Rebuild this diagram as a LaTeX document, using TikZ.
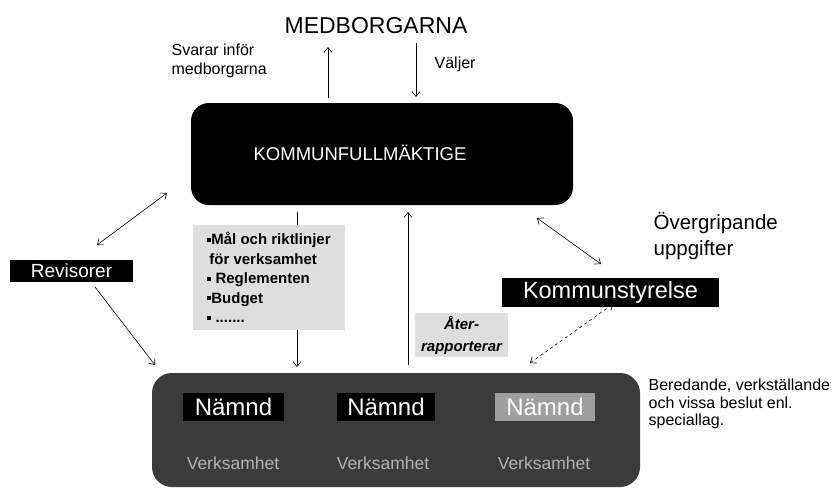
\documentclass[tikz,border=0pt]{standalone}
\usepackage{fontspec}
\setmainfont{Liberation Sans}
\usetikzlibrary{arrows.meta}
\newcommand{\kvadrat}{\rule[3pt]{4pt}{4pt}}

\begin{document}
\begin{tikzpicture}[x=1pt, y=-1pt, line width=0.6pt,
		pil/.style={-{Straight Barb[length=5pt,width=8pt]}},
		dubbelpil/.style={{Straight Barb[length=5pt,width=8pt]}-{Straight Barb[length=5pt,width=8pt]}},
		svartruta/.style={fill=black, text=white, inner sep=0pt},
		ljusruta/.style={fill=black!13, inner sep=0pt},
		brodtext/.style={font=\fontsize{16}{19}\selectfont, align=left}]
				\useasboundingbox (0,0) rectangle (837,488);
				% medborgarna och fullmaktige
				\node[font=\fontsize{23}{26}\selectfont] (medborgarna) at (376,26) {MEDBORGARNA};
				\node[brodtext, anchor=west] (svarar) at (168,61) {Svarar inför\\medborgarna};
				\node[brodtext, anchor=west] (valjer) at (431,64) {Väljer};
				\node[svartruta, rounded corners=18pt, minimum width=382pt, minimum height=102pt] (kf) at (382,154) {};
				\node[text=white, font=\fontsize{18.5}{20}\selectfont] (kftext) at (360,153) {KOMMUNFULLMÄKTIGE};
				
				% namnder och verksamheter
				\node[fill=black!77, rounded corners=20pt, minimum width=488pt, minimum height=114pt, inner sep=0pt] (verk) at (396,430) {};
				\node[svartruta, minimum width=101pt, minimum height=28pt, font=\fontsize{24}{26}\selectfont] (namnd1) at (233.5,407) {Nämnd};
				\node[svartruta, minimum width=98pt, minimum height=28pt, font=\fontsize{24}{26}\selectfont] (namnd2) at (386,407) {Nämnd};
				\node[svartruta, fill=black!38, minimum width=100pt, minimum height=28pt, font=\fontsize{24}{26}\selectfont] (namnd3) at (545,407) {Nämnd};
				\node[text=black!30, font=\fontsize{17.5}{20}\selectfont] (verk1) at (233,463) {Verksamhet};
				\node[text=black!30, font=\fontsize{17.5}{20}\selectfont] (verk2) at (383,463) {Verksamhet};
				\node[text=black!30, font=\fontsize{17.5}{20}\selectfont] (verk3) at (544,463) {Verksamhet};
				\node[font=\fontsize{16}{17.5}\selectfont, align=left, anchor=west] (beredande) at (645,404) {Beredande, verkställande\\och vissa beslut enl.\\speciallag.};
				
				% revisorer och kommunstyrelse
				\node[svartruta, minimum width=123pt, minimum height=22pt, font=\fontsize{19}{20}\selectfont] (revisorer) at (71.5,271) {Revisorer};
				\node[svartruta, minimum width=217pt, minimum height=29pt, font=\fontsize{23.5}{25}\selectfont] (ks) at (610.5,292.5) {Kommunstyrelse};
				\node[font=\fontsize{20.5}{26}\selectfont, align=left, anchor=west] (overgripande) at (650,236) {Övergripande\\uppgifter};
				
				% pilar
				\coordinate (svar1) at (328,98);  \coordinate (svar2) at (328,47);
				\coordinate (val1) at (416,43);   \coordinate (val2) at (416,97);
				\coordinate (mal1) at (297,212);  \coordinate (mal2) at (297,367);
				\coordinate (ater1) at (408,365); \coordinate (ater2) at (408,212);
				\coordinate (rev1) at (97,245);   \coordinate (rev2) at (167,193);
				\coordinate (rev3) at (95,287);   \coordinate (rev4) at (155,365);
				\coordinate (ks1) at (537,218);   \coordinate (ks2) at (601,264);
				\coordinate (ks3) at (530,363);   \coordinate (ks4) at (613,304);
				\draw[pil] (svar1) -- (svar2);
				\draw[pil] (val1) -- (val2);
				\draw[pil] (mal1) -- (mal2);
				\draw[pil] (ater1) -- (ater2);
				\draw[dubbelpil] (rev1) -- (rev2);
				\draw[pil] (rev3) -- (rev4);
				\draw[dubbelpil] (ks1) -- (ks2);
				\draw[dubbelpil, dashed] (ks3) -- (ks4);
				
				% mal och aterrapportering
				\node[ljusruta, minimum width=152pt, minimum height=105pt, align=left, font=\bfseries\fontsize{15}{19.5}\selectfont] (mal) at (269,277.5)
					{\kvadrat Mål och riktlinjer\\\hspace{2pt}för verksamhet\\\kvadrat\ Reglementen\\\kvadrat Budget\\\kvadrat\ .......};
				\node[ljusruta, minimum width=93pt, minimum height=44pt, align=center, font=\bfseries\itshape\fontsize{15}{22}\selectfont] (ater) at (461.5,335) {Åter-\\rapporterar};
\end{tikzpicture}
\end{document}
